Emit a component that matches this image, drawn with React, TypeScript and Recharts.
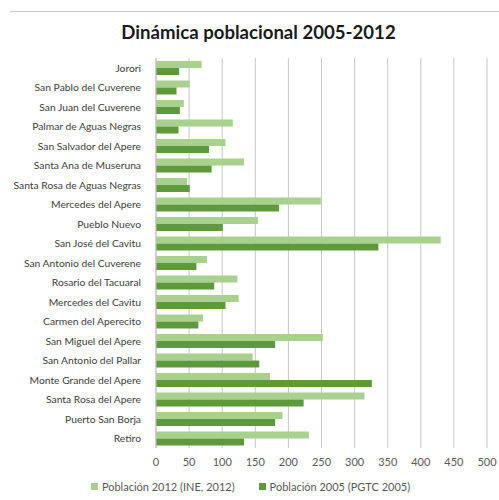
import { Bar, BarChart, CartesianGrid, Legend, XAxis, YAxis } from "recharts";

const CATEGORIES = [
  "Jorori",
  "San Pablo del Cuverene",
  "San Juan del Cuverene",
  "Palmar de Aguas Negras",
  "San Salvador del Apere",
  "Santa Ana de Museruna",
  "Santa Rosa de Aguas Negras",
  "Mercedes del Apere",
  "Pueblo Nuevo",
  "San José del Cavitu",
  "San Antonio del Cuverene",
  "Rosario del Tacuaral",
  "Mercedes del Cavitu",
  "Carmen del Aperecito",
  "San Miguel del Apere",
  "San Antonio del Pallar",
  "Monte Grande del Apere",
  "Santa Rosa del Apere",
  "Puerto San Borja",
  "Retiro",
];

const POP_2012 = [69, 51, 42, 116, 105, 133, 47, 249, 154, 430, 77, 123, 125, 71, 252, 146, 172, 315, 191, 231];
const POP_2005 = [35, 31, 36, 34, 80, 84, 51, 186, 101, 336, 61, 88, 105, 64, 180, 156, 326, 223, 180, 133];

const X_TICKS = [0, 50, 100, 150, 200, 250, 300, 350, 400, 450, 500];

const SERIES = [
  { key: "p2012", name: "Población 2012 (INE, 2012)", color: "#a9d18e" },
  { key: "p2005", name: "Población 2005 (PGTC 2005)", color: "#5e9a3c" },
];

const FONT = "Lato, 'Open Sans', sans-serif";

const data = CATEGORIES.map((name, i) => ({
  name,
  p2012: POP_2012[i],
  p2005: POP_2005[i],
}));

function CategoryTick({ x, y, payload }: any) {
  return (
    <text x={x - 7} y={y} dy={4} textAnchor="end" fill="#404040" fontSize={10.3} fontFamily={FONT}>
      {payload.value}
    </text>
  );
}

function LegendContent() {
  return (
    <div style={{ height: 20, display: "flex", justifyContent: "center", alignItems: "center", gap: 24, paddingTop: 4, paddingLeft: 14, boxSizing: "border-box" }}>
      {SERIES.map((s) => (
        <div key={s.key} style={{ display: "flex", alignItems: "center", fontSize: 11, color: "#595959", fontFamily: FONT }}>
          <span style={{ display: "inline-block", width: 7, height: 7, background: s.color, marginRight: 4 }} />
          {s.name}
        </div>
      ))}
    </div>
  );
}

export default function App() {
  return (
    <div style={{ position: "absolute", left: 0, top: 0, width: 499, height: 500, background: "#fff", fontFamily: FONT }}>
      <div style={{ position: "absolute", left: 10, top: 11, width: 489, height: 1, background: "#c8c8c8" }} />
      <div
        style={{
          position: "absolute",
          left: 0,
          top: 21,
          width: 517,
          textAlign: "center",
          fontSize: 18.6,
          fontWeight: 700,
          color: "#1a1a1a",
        }}
      >
        Dinámica poblacional 2005-2012
      </div>
      <BarChart
        width={499}
        height={500}
        data={data}
        layout="vertical"
        margin={{ top: 58, right: 12, bottom: 6, left: 0 }}
        barGap={0}
        barSize={7}
        style={{ position: "absolute", left: 0, top: 0 }}
      >
        <CartesianGrid stroke="#c6c6c6" horizontal={false} />
        <XAxis
          type="number"
          domain={[0, 500]}
          ticks={X_TICKS}
          interval={0}
          axisLine={false}
          tickLine={false}
          height={26}
          dy={2}
          tick={{ fill: "#595959", fontSize: 11, fontFamily: FONT }}
        />
        <YAxis
          type="category"
          dataKey="name"
          width={156}
          interval={0}
          axisLine={{ stroke: "#bfbfbf" }}
          tickLine={false}
          tick={<CategoryTick />}
        />
        <Legend verticalAlign="bottom" content={<LegendContent />} />
        {SERIES.map((s) => (
          <Bar key={s.key} dataKey={s.key} name={s.name} fill={s.color} isAnimationActive={false} />
        ))}
      </BarChart>
    </div>
  );
}
